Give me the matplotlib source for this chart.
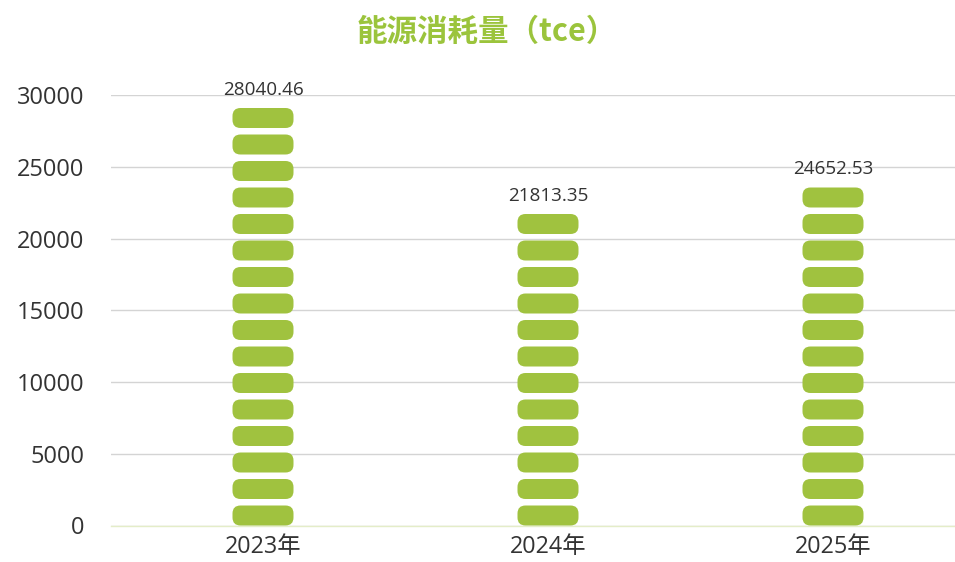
import matplotlib
matplotlib.use("Agg")
import matplotlib.pyplot as plt
from matplotlib.patches import FancyBboxPatch

# data
years = ["2023年", "2024年", "2025年"]
values = [28040.46, 21813.35, 24652.53]
n_blocks = [16, 12, 13]          # stacked icons per bar
y_ticks = [0, 5000, 10000, 15000, 20000, 25000, 30000]

GREEN = "#a0c23f"
TEXT = "#333333"
FONTS = ["Open Sans", "Noto Sans CJK SC", "DejaVu Sans"]

plt.rcParams["font.family"] = FONTS

W, H = 955, 562
fig = plt.figure(figsize=(W / 100, H / 100), dpi=100)

# plot area in pixels: left 111, right runs past the image edge
left_px, right_px = 111, 955
top_px, bottom_px = 95, 525.5
ax = fig.add_axes([left_px / W, 1 - bottom_px / H,
                   (right_px - left_px) / W, (bottom_px - top_px) / H])

band_px = 285.0
first_center_px = 263.0
ax.set_xlim((left_px - first_center_px) / band_px, (right_px - first_center_px) / band_px)
ax.set_ylim(0, 30000)

# block geometry (pixels -> data units)
y_per_px = 30000 / (bottom_px - top_px)
x_per_px = 1 / band_px
block_w = 61 * x_per_px
block_h = 20 * y_per_px
step = 26.5 * y_per_px
radius = 8 * x_per_px
aspect = y_per_px / x_per_px

for i, (v, n) in enumerate(zip(values, n_blocks)):
    for k in range(n):
        y0 = k * step
        patch = FancyBboxPatch((i - block_w / 2, y0), block_w, block_h,
                               boxstyle=f"round,pad=0,rounding_size={radius}",
                               mutation_aspect=aspect,
                               facecolor=GREEN, edgecolor="none", zorder=3)
        ax.add_patch(patch)
    top = (n - 1) * step + block_h
    ax.annotate(f"{v:.2f}", (i, top), xytext=(0, 6.5), textcoords="offset points",
                ha="center", va="bottom", fontsize=13.6, color=TEXT,
                annotation_clip=False, zorder=4)

ax.set_yticks(y_ticks)
ax.set_yticklabels([str(t) for t in y_ticks])
ax.set_xticks(range(len(years)))
ax.set_xticklabels(years)
ax.tick_params(axis="y", length=0, pad=19, labelsize=17, labelcolor=TEXT)
ax.tick_params(axis="x", length=0, pad=7, labelsize=16.8, labelcolor=TEXT)

ax.grid(axis="y", color="#d4d4d4", linewidth=1)
ax.set_axisbelow(True)
for side in ["top", "right", "left"]:
    ax.spines[side].set_visible(False)
ax.spines["bottom"].set_color("#e4edc8")
ax.spines["bottom"].set_linewidth(1)
ax.spines["bottom"].set_zorder(2)

fig.text(487 / W, 1 - 32 / H, "能源消耗量（tce）", ha="center", va="center",
         fontsize=22, fontweight="bold", color="#9bc43c",
         family=["Noto Sans CJK SC", "DejaVu Sans"])

fig.savefig("out.png", dpi=100)
